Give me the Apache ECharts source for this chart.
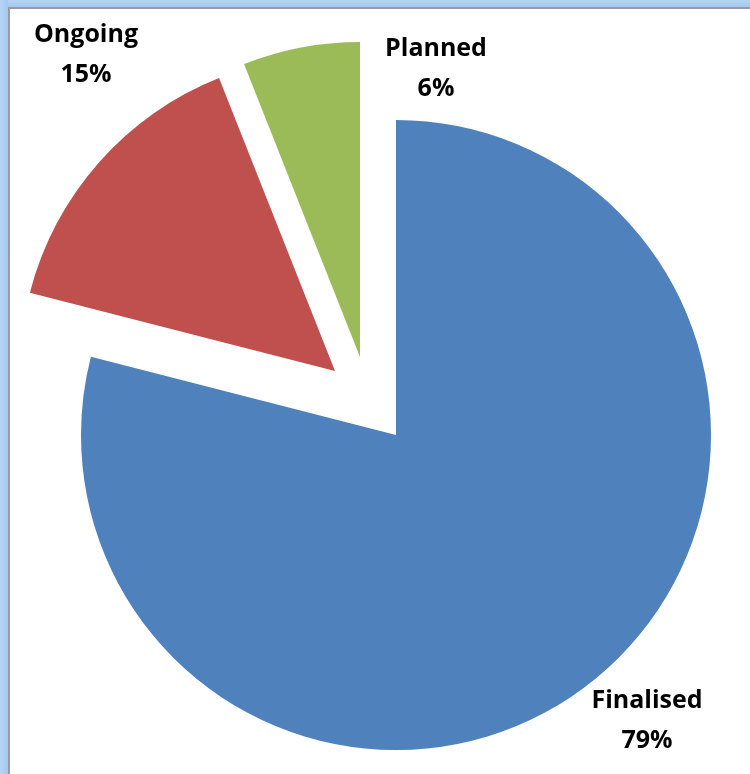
<!DOCTYPE html>
<html>
<head>
<meta charset="utf-8">
<script src="https://cdn.jsdelivr.net/npm/echarts@6/dist/echarts.min.js"></script>
<style>
  html, body { margin: 0; padding: 0; background: #fff; }
  #wrap { position: relative; width: 750px; height: 774px; overflow: hidden; background: #fff; }
  #stripTop { position: absolute; left: 0; top: 0; width: 750px; height: 7px; background: linear-gradient(#b6d5f7, #a4c8f1); }
  #stripLeft { position: absolute; left: 0; top: 0; width: 8px; height: 774px; background: linear-gradient(90deg, #b6d5f7, #a4c8f1); }
  #lineTop { position: absolute; left: 8px; top: 7px; width: 742px; height: 2px; background: #9b9b9b; }
  #lineLeft { position: absolute; left: 8px; top: 7px; width: 2px; height: 767px; background: #9b9b9b; }
  #chart { position: absolute; left: 0; top: 0; width: 750px; height: 774px; }
</style>
</head>
<body>
<div id="wrap">
  <div id="stripTop"></div>
  <div id="stripLeft"></div>
  <div id="lineTop"></div>
  <div id="lineLeft"></div>
  <div id="chart"></div>
</div>
<script>
// Data
const categories = ['Finalised', 'Ongoing', 'Planned'];
const values = [79, 15, 6];
const colors = ['#4F81BD', '#C0504D', '#9BBB59'];

// Layout (per-slice pie centres, reproducing the exploded look)
const sliceCenters = [[396, 435], [335, 371], [360, 357]];
const labelPos = [[647, 721], [86, 55], [436, 69]];
const pieRadius = 315;

const chart = echarts.init(document.getElementById('chart'), null, { renderer: 'canvas' });

const series = categories.map(function (cat, k) {
  return {
    type: 'pie',
    center: sliceCenters[k],
    radius: pieRadius,
    startAngle: 90,
    clockwise: true,
    silent: true,
    animation: false,
    avoidLabelOverlap: false,
    labelLine: { show: false },
    data: categories.map(function (name, i) {
      const visible = i === k;
      return {
        name: name,
        value: values[i],
        itemStyle: { color: visible ? colors[i] : 'rgba(0,0,0,0)' },
        label: {
          show: visible,
          position: 'outside',
          formatter: '{b}\n{d}%',
          fontFamily: 'Open Sans',
          fontWeight: 'bold',
          fontSize: 25,
          lineHeight: 40,
          color: '#000',
          align: 'center'
        }
      };
    }),
    labelLayout: function (params) {
      const p = labelPos[k];
      return { x: p[0], y: p[1], align: 'center', verticalAlign: 'middle', moveOverlap: false, hideOverlap: false };
    }
  };
});

chart.setOption({
  backgroundColor: 'transparent',
  series: series
});
</script>
</body>
</html>
